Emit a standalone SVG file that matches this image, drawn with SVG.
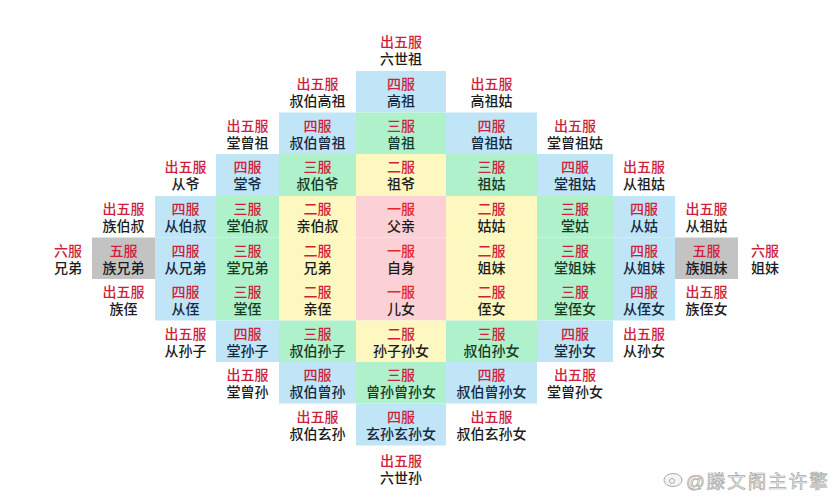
<svg xmlns="http://www.w3.org/2000/svg" width="839" height="500" viewBox="0 0 839 500">
<style>
text{font-family:"Liberation Sans","Noto Sans CJK SC","Noto Sans CJK TC",sans-serif;font-size:14px;font-weight:500;text-anchor:middle}
.l{fill:#cf1f3d}
.l1{fill:#e3262b}
.n{fill:#1c1c1c}
.nb{fill:#16283f}
.ng{fill:#173a26}
.b{fill:#bfe5f6}
.g{fill:#aff1cb}
.y{fill:#fdf8c0}
.p{fill:#fcd1d5}
.gr{fill:#c3c3c3}
.wm{font-size:18.5px;font-weight:400;letter-spacing:2px;text-anchor:start;fill:#f4f4f4;stroke:#a8a8a8;stroke-width:0.7}
</style>
<rect width="839" height="500" fill="#ffffff"/>
<g id="cells">
<g id="n-liushizu"><text x="401" y="46.5"><tspan class="l">出五服</tspan><tspan class="n" x="401" dy="17">六世祖</tspan></text></g>

<g id="n-shubogaozu"><text x="317.5" y="89"><tspan class="l">出五服</tspan><tspan class="n" x="317.5" dy="17">叔伯高祖</tspan></text></g>
<g id="n-gaozu"><rect class="b" x="356" y="71" width="90" height="41.5"/><text x="401" y="89"><tspan class="l">四服</tspan><tspan class="nb" x="401" dy="17">高祖</tspan></text></g>
<g id="n-gaozugu"><text x="491.5" y="89"><tspan class="l">出五服</tspan><tspan class="n" x="491.5" dy="17">高祖姑</tspan></text></g>

<g id="n-tangcengzu"><text x="247.5" y="130.5"><tspan class="l">出五服</tspan><tspan class="n" x="247.5" dy="17">堂曾祖</tspan></text></g>
<g id="n-shubocengzu"><rect class="b" x="279" y="112.5" width="77" height="41.5"/><text x="317.5" y="130.5"><tspan class="l">四服</tspan><tspan class="nb" x="317.5" dy="17">叔伯曾祖</tspan></text></g>
<g id="n-cengzu"><rect class="g" x="356" y="112.5" width="90" height="41.5"/><text x="401" y="130.5"><tspan class="l">三服</tspan><tspan class="ng" x="401" dy="17">曾祖</tspan></text></g>
<g id="n-cengzugu"><rect class="b" x="446" y="112.5" width="91" height="41.5"/><text x="491.5" y="130.5"><tspan class="l">四服</tspan><tspan class="nb" x="491.5" dy="17">曾祖姑</tspan></text></g>
<g id="n-tangcengzugu"><text x="575" y="130.5"><tspan class="l">出五服</tspan><tspan class="n" x="575" dy="17">堂曾祖姑</tspan></text></g>

<g id="n-congye"><text x="185.5" y="172"><tspan class="l">出五服</tspan><tspan class="n" x="185.5" dy="17">从爷</tspan></text></g>
<g id="n-tangye"><rect class="b" x="216" y="154" width="63" height="42"/><text x="247.5" y="172"><tspan class="l">四服</tspan><tspan class="nb" x="247.5" dy="17">堂爷</tspan></text></g>
<g id="n-shuboye"><rect class="g" x="279" y="154" width="77" height="42"/><text x="317.5" y="172"><tspan class="l">三服</tspan><tspan class="ng" x="317.5" dy="17">叔伯爷</tspan></text></g>
<g id="n-zuye"><rect class="y" x="356" y="154" width="90" height="42"/><text x="401" y="172"><tspan class="l">二服</tspan><tspan class="n" x="401" dy="17">祖爷</tspan></text></g>
<g id="n-zugu"><rect class="g" x="446" y="154" width="91" height="42"/><text x="491.5" y="172"><tspan class="l">三服</tspan><tspan class="ng" x="491.5" dy="17">祖姑</tspan></text></g>
<g id="n-tangzugu"><rect class="b" x="537" y="154" width="76" height="42"/><text x="575" y="172"><tspan class="l">四服</tspan><tspan class="nb" x="575" dy="17">堂祖姑</tspan></text></g>
<g id="n-congzugu"><text x="644" y="172"><tspan class="l">出五服</tspan><tspan class="n" x="644" dy="17">从祖姑</tspan></text></g>

<g id="n-zuboshu"><text x="123.5" y="214"><tspan class="l">出五服</tspan><tspan class="n" x="123.5" dy="17">族伯叔</tspan></text></g>
<g id="n-congboshu"><rect class="b" x="155" y="196" width="61" height="41.5"/><text x="185.5" y="214"><tspan class="l">四服</tspan><tspan class="nb" x="185.5" dy="17">从伯叔</tspan></text></g>
<g id="n-tangboshu"><rect class="g" x="216" y="196" width="63" height="41.5"/><text x="247.5" y="214"><tspan class="l">三服</tspan><tspan class="ng" x="247.5" dy="17">堂伯叔</tspan></text></g>
<g id="n-qinboshu"><rect class="y" x="279" y="196" width="77" height="41.5"/><text x="317.5" y="214"><tspan class="l">二服</tspan><tspan class="n" x="317.5" dy="17">亲伯叔</tspan></text></g>
<g id="n-fuqin"><rect class="p" x="356" y="196" width="90" height="41.5"/><text x="401" y="214"><tspan class="l1">一服</tspan><tspan class="n" x="401" dy="17">父亲</tspan></text></g>
<g id="n-gugu"><rect class="y" x="446" y="196" width="91" height="41.5"/><text x="491.5" y="214"><tspan class="l">二服</tspan><tspan class="n" x="491.5" dy="17">姑姑</tspan></text></g>
<g id="n-tanggu"><rect class="g" x="537" y="196" width="76" height="41.5"/><text x="575" y="214"><tspan class="l">三服</tspan><tspan class="ng" x="575" dy="17">堂姑</tspan></text></g>
<g id="n-conggu"><rect class="b" x="613" y="196" width="62" height="41.5"/><text x="644" y="214"><tspan class="l">四服</tspan><tspan class="nb" x="644" dy="17">从姑</tspan></text></g>
<g id="n-congzugu2"><text x="706.5" y="214"><tspan class="l">出五服</tspan><tspan class="n" x="706.5" dy="17">从祖姑</tspan></text></g>

<g id="n-xiongdi6"><text x="68" y="255.5"><tspan class="l">六服</tspan><tspan class="n" x="68" dy="17">兄弟</tspan></text></g>
<g id="n-zuxiongdi"><rect class="gr" x="92" y="237.5" width="63" height="41.5"/><text x="123.5" y="255.5"><tspan class="l">五服</tspan><tspan class="n" x="123.5" dy="17">族兄弟</tspan></text></g>
<g id="n-congxiongdi"><rect class="b" x="155" y="237.5" width="61" height="41.5"/><text x="185.5" y="255.5"><tspan class="l">四服</tspan><tspan class="nb" x="185.5" dy="17">从兄弟</tspan></text></g>
<g id="n-tangxiongdi"><rect class="g" x="216" y="237.5" width="63" height="41.5"/><text x="247.5" y="255.5"><tspan class="l">三服</tspan><tspan class="ng" x="247.5" dy="17">堂兄弟</tspan></text></g>
<g id="n-xiongdi"><rect class="y" x="279" y="237.5" width="77" height="41.5"/><text x="317.5" y="255.5"><tspan class="l">二服</tspan><tspan class="n" x="317.5" dy="17">兄弟</tspan></text></g>
<g id="n-zishen"><rect class="p" x="356" y="237.5" width="90" height="41.5"/><text x="401" y="255.5"><tspan class="l1">一服</tspan><tspan class="n" x="401" dy="17">自身</tspan></text></g>
<g id="n-jiemei"><rect class="y" x="446" y="237.5" width="91" height="41.5"/><text x="491.5" y="255.5"><tspan class="l">二服</tspan><tspan class="n" x="491.5" dy="17">姐妹</tspan></text></g>
<g id="n-tangjiemei"><rect class="g" x="537" y="237.5" width="76" height="41.5"/><text x="575" y="255.5"><tspan class="l">三服</tspan><tspan class="ng" x="575" dy="17">堂姐妹</tspan></text></g>
<g id="n-congjiemei"><rect class="b" x="613" y="237.5" width="62" height="41.5"/><text x="644" y="255.5"><tspan class="l">四服</tspan><tspan class="nb" x="644" dy="17">从姐妹</tspan></text></g>
<g id="n-zujiemei"><rect class="gr" x="675" y="237.5" width="63" height="41.5"/><text x="706.5" y="255.5"><tspan class="l">五服</tspan><tspan class="n" x="706.5" dy="17">族姐妹</tspan></text></g>
<g id="n-jiemei6"><text x="765" y="255.5"><tspan class="l">六服</tspan><tspan class="n" x="765" dy="17">姐妹</tspan></text></g>

<g id="n-zuzhi"><text x="123.5" y="297"><tspan class="l">出五服</tspan><tspan class="n" x="123.5" dy="17">族侄</tspan></text></g>
<g id="n-congzhi"><rect class="b" x="155" y="279" width="61" height="41.5"/><text x="185.5" y="297"><tspan class="l">四服</tspan><tspan class="nb" x="185.5" dy="17">从侄</tspan></text></g>
<g id="n-tangzhi"><rect class="g" x="216" y="279" width="63" height="41.5"/><text x="247.5" y="297"><tspan class="l">三服</tspan><tspan class="ng" x="247.5" dy="17">堂侄</tspan></text></g>
<g id="n-qinzhi"><rect class="y" x="279" y="279" width="77" height="41.5"/><text x="317.5" y="297"><tspan class="l">二服</tspan><tspan class="n" x="317.5" dy="17">亲侄</tspan></text></g>
<g id="n-ernv"><rect class="p" x="356" y="279" width="90" height="41.5"/><text x="401" y="297"><tspan class="l1">一服</tspan><tspan class="n" x="401" dy="17">儿女</tspan></text></g>
<g id="n-zhinv"><rect class="y" x="446" y="279" width="91" height="41.5"/><text x="491.5" y="297"><tspan class="l">二服</tspan><tspan class="n" x="491.5" dy="17">侄女</tspan></text></g>
<g id="n-tangzhinv"><rect class="g" x="537" y="279" width="76" height="41.5"/><text x="575" y="297"><tspan class="l">三服</tspan><tspan class="ng" x="575" dy="17">堂侄女</tspan></text></g>
<g id="n-congzhinv"><rect class="b" x="613" y="279" width="62" height="41.5"/><text x="644" y="297"><tspan class="l">四服</tspan><tspan class="nb" x="644" dy="17">从侄女</tspan></text></g>
<g id="n-zuzhinv"><text x="706.5" y="297"><tspan class="l">出五服</tspan><tspan class="n" x="706.5" dy="17">族侄女</tspan></text></g>

<g id="n-congsunzi"><text x="185.5" y="338.5"><tspan class="l">出五服</tspan><tspan class="n" x="185.5" dy="17">从孙子</tspan></text></g>
<g id="n-tangsunzi"><rect class="b" x="216" y="320.5" width="63" height="41.5"/><text x="247.5" y="338.5"><tspan class="l">四服</tspan><tspan class="nb" x="247.5" dy="17">堂孙子</tspan></text></g>
<g id="n-shubosunzi"><rect class="g" x="279" y="320.5" width="77" height="41.5"/><text x="317.5" y="338.5"><tspan class="l">三服</tspan><tspan class="ng" x="317.5" dy="17">叔伯孙子</tspan></text></g>
<g id="n-sunzisunnv"><rect class="y" x="356" y="320.5" width="90" height="41.5"/><text x="401" y="338.5"><tspan class="l">二服</tspan><tspan class="n" x="401" dy="17">孙子孙女</tspan></text></g>
<g id="n-shubosunnv"><rect class="g" x="446" y="320.5" width="91" height="41.5"/><text x="491.5" y="338.5"><tspan class="l">三服</tspan><tspan class="ng" x="491.5" dy="17">叔伯孙女</tspan></text></g>
<g id="n-tangsunnv"><rect class="b" x="537" y="320.5" width="76" height="41.5"/><text x="575" y="338.5"><tspan class="l">四服</tspan><tspan class="nb" x="575" dy="17">堂孙女</tspan></text></g>
<g id="n-congsunnv"><text x="644" y="338.5"><tspan class="l">出五服</tspan><tspan class="n" x="644" dy="17">从孙女</tspan></text></g>

<g id="n-tangcengsun"><text x="247.5" y="380"><tspan class="l">出五服</tspan><tspan class="n" x="247.5" dy="17">堂曾孙</tspan></text></g>
<g id="n-shubocengsun"><rect class="b" x="279" y="362" width="77" height="41.5"/><text x="317.5" y="380"><tspan class="l">四服</tspan><tspan class="nb" x="317.5" dy="17">叔伯曾孙</tspan></text></g>
<g id="n-cengsun"><rect class="g" x="356" y="362" width="90" height="41.5"/><text x="401" y="380"><tspan class="l">三服</tspan><tspan class="ng" x="401" dy="17">曾孙曾孙女</tspan></text></g>
<g id="n-shubocengsunnv"><rect class="b" x="446" y="362" width="91" height="41.5"/><text x="491.5" y="380"><tspan class="l">四服</tspan><tspan class="nb" x="491.5" dy="17">叔伯曾孙女</tspan></text></g>
<g id="n-tangcengsunnv"><text x="575" y="380"><tspan class="l">出五服</tspan><tspan class="n" x="575" dy="17">堂曾孙女</tspan></text></g>

<g id="n-shuboxuansun"><text x="317.5" y="421.5"><tspan class="l">出五服</tspan><tspan class="n" x="317.5" dy="17">叔伯玄孙</tspan></text></g>
<g id="n-xuansun"><rect class="b" x="356" y="403.5" width="90" height="42"/><text x="401" y="421.5"><tspan class="l">四服</tspan><tspan class="nb" x="401" dy="17">玄孙玄孙女</tspan></text></g>
<g id="n-shuboxuansunnv"><text x="491.5" y="421.5"><tspan class="l">出五服</tspan><tspan class="n" x="491.5" dy="17">叔伯玄孙女</tspan></text></g>

<g id="n-liushisun"><text x="401" y="466"><tspan class="l">出五服</tspan><tspan class="n" x="401" dy="17">六世孙</tspan></text></g>
</g>
<g id="watermark">
<ellipse cx="673" cy="480" rx="9" ry="6.5" fill="#f4f4f4" stroke="#a8a8a8" stroke-width="1"/>
<circle cx="672" cy="481" r="2.5" fill="none" stroke="#a8a8a8" stroke-width="0.9"/>
<text class="wm" x="686" y="487.5">@滕文阁主许擎</text>
</g>
</svg>
